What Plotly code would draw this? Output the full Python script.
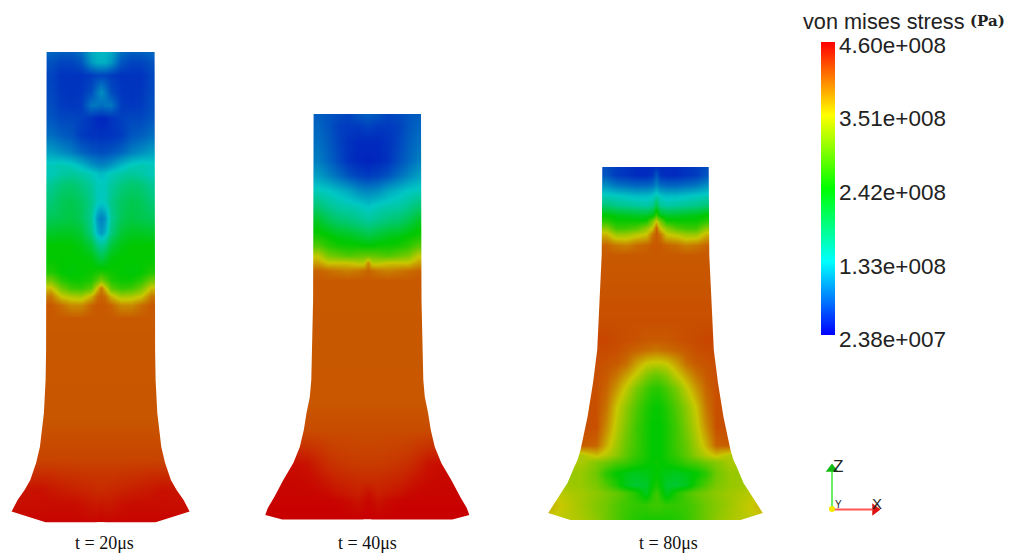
import numpy as np
import plotly.graph_objects as go

# Colour-bar ticks (Pa)
tick_vals = [2.38e7, 1.33e8, 2.42e8, 3.51e8, 4.60e8]
tick_text = ["2.38e+007", "1.33e+008", "2.42e+008", "3.51e+008", "4.60e+008"]
tick_y = [339, 266, 192, 118, 45]

# Distance from specimen axis for each column of readings
col_d = [0, 4, 10, 20, 30, 40, 50, 60, 75, 110]

# Readings are in colour-bar intervals: 0 = 2.38e7, 1 = 1.33e8, 2 = 2.42e8, 3 = 3.51e8, 4 = 4.60e8
rows_20 = [52, 62, 75, 92, 105, 118, 135, 152, 165, 173, 185, 202, 218, 232, 245, 258, 272, 280, 288, 296, 305, 318, 420, 460, 475, 490, 505, 523]
lvl_20 = [
    [.90, .88, .80, .45, .35, .35, .40],
    [.85, .85, .70, .30, .20, .20, .28],
    [.20, .20, .15, .10, .10, .10, .20],
    [.65, .50, .25, .12, .10, .12, .22],
    [.45, .50, .50, .15, .12, .15, .25],
    [.03, .03, .10, .18, .22, .22, .30],
    [.08, .10, .10, .15, .30, .35, .45],
    [.25, .27, .30, .40, .55, .65, .75],
    [.60, .62, .70, .90, 1.05, 1.1, 1.05],
    [.90, .95, 1.05, 1.15, 1.2, 1.15, 1.05],
    [1.05, 1.05, 1.2, 1.35, 1.45, 1.4, 1.25],
    [1.0, 1.05, 1.3, 1.5, 1.6, 1.55, 1.4],
    [.55, .70, 1.25, 1.55, 1.65, 1.6, 1.55],
    [.70, .85, 1.35, 1.72, 1.82, 1.82, 1.78],
    [1.25, 1.35, 1.7, 1.9, 2.0, 2.0, 2.0],
    [1.65, 1.75, 1.95, 2.0, 2.0, 2.0, 2.0],
    [2.15, 2.1, 2.05, 2.0, 1.95, 2.0, 2.15],
    [2.6, 2.4, 2.15, 2.05, 2.05, 2.2, 2.55],
    [3.4, 3.05, 2.45, 2.25, 2.3, 2.55, 3.05],
    [3.5, 3.45, 3.1, 2.8, 2.85, 3.0, 3.4],
    [3.55, 3.55, 3.5, 3.3, 3.3, 3.45, 3.55],
    [3.55],
    [3.57],
    [3.66],
    [3.73, 3.73, 3.73, 3.74, 3.75, 3.76, 3.78],
    [3.78, 3.78, 3.8, 3.82, 3.84, 3.86, 3.88, 3.92, 3.9],
    [3.9, 3.88, 3.88, 3.92, 3.94, 3.94, 3.94, 3.93, 3.93],
    [3.98, 3.97, 3.97, 3.97, 3.97, 3.97, 3.97],
]

rows_40 = [114, 125, 140, 160, 175, 190, 205, 220, 235, 245, 255, 262, 270, 280, 400, 430, 450, 463, 480, 493, 500, 520]
lvl_40 = [
    [.35, .33, .30, .20, .25, .30, .35],
    [.20, .18, .15, .15, .18, .30, .40],
    [.05, .05, .05, .10, .20, .35, .45],
    [.00, .02, .03, .10, .25, .40, .55],
    [.15, .18, .20, .30, .45, .60, .75],
    [.60, .60, .65, .80, .90, 1.0, 1.05],
    [.95, 1.0, 1.05, 1.1, 1.15, 1.25, 1.4],
    [1.2, 1.25, 1.3, 1.4, 1.45, 1.6, 1.8],
    [1.65, 1.7, 1.75, 1.85, 1.9, 2.0, 2.1],
    [2.0, 2.0, 2.05, 2.05, 2.1, 2.2, 2.4],
    [2.5, 2.5, 2.45, 2.4, 2.5, 2.6, 2.95],
    [3.3, 2.9, 2.9, 3.0, 3.0, 3.0, 3.2],
    [3.5, 3.45, 3.4, 3.35, 3.4, 3.45, 3.5],
    [3.55],
    [3.56],
    [3.62],
    [3.66, 3.66, 3.66, 3.67, 3.68, 3.7, 3.74, 3.78, 3.8],
    [3.7, 3.7, 3.7, 3.71, 3.73, 3.76, 3.82, 3.9, 3.93],
    [3.78, 3.78, 3.78, 3.8, 3.82, 3.86, 3.91, 3.94, 3.96],
    [3.92, 3.88, 3.84, 3.87, 3.9, 3.94, 3.96, 3.97, 3.97],
    [3.96, 3.94, 3.9, 3.94, 3.97, 3.98],
    [4.0],
]

rows_80 = [167, 175, 185, 195, 205, 215, 221, 228, 234, 245, 255, 320, 340, 350, 363, 375, 388, 407, 427, 445, 455, 462, 473, 485, 493, 505, 521]
lvl_80 = [
    [.10, .05, .05, .05, .10, .15, .25],
    [.30, .10, .05, .05, .10, .15, .30],
    [.60, .45, .40, .40, .45, .50, .65],
    [1.1, .95, .90, .90, .95, 1.0, 1.05],
    [1.6, 1.25, 1.15, 1.2, 1.25, 1.3, 1.4],
    [2.3, 1.9, 1.8, 1.8, 1.85, 1.9, 2.0],
    [3.0, 2.6, 2.1, 2.05, 2.05, 2.05, 2.2],
    [3.5, 3.0, 2.7, 2.4, 2.3, 2.3, 2.7],
    [3.55, 3.4, 3.0, 2.9, 2.75, 2.75, 3.1],
    [3.55, 3.55, 3.5, 3.45, 3.35, 3.4, 3.5],
    [3.55],
    [3.6],
    [3.55, 3.55, 3.55, 3.58, 3.6, 3.62, 3.65],
    [3.4, 3.42, 3.45, 3.5, 3.55, 3.6, 3.62, 3.62],
    [2.95, 2.95, 3.0, 3.2, 3.45, 3.55, 3.58, 3.6],
    [2.5, 2.55, 2.65, 2.95, 3.2, 3.42, 3.55, 3.6],
    [2.2, 2.22, 2.35, 2.6, 2.95, 3.25, 3.5, 3.6],
    [2.02, 2.05, 2.15, 2.4, 2.7, 3.02, 3.42, 3.6],
    [2.0, 2.0, 2.1, 2.3, 2.6, 2.92, 3.3, 3.6],
    [2.0, 2.0, 2.1, 2.3, 2.5, 2.8, 3.12, 3.5, 3.55],
    [2.0, 2.0, 2.1, 2.25, 2.45, 2.7, 2.9, 3.05, 2.85],
    [2.05, 2.0, 2.05, 2.15, 2.3, 2.4, 2.55, 2.65, 2.85],
    [2.0, 1.95, 1.9, 1.85, 1.9, 2.0, 2.2, 2.55, 2.75],
    [2.1, 2.0, 1.78, 1.75, 1.85, 2.15, 2.4, 2.6, 2.75, 2.85],
    [2.3, 2.15, 1.85, 2.15, 2.35, 2.5, 2.6, 2.7, 2.8, 3.0],
    [2.3, 2.3, 2.25, 2.25, 2.3, 2.4, 2.55, 2.65, 2.8, 3.15],
    [2.1, 2.1, 2.1, 2.15, 2.25, 2.4, 2.55, 2.7, 2.85, 3.0],
]

# Specimen outlines: height and half-width
edge_y_20 = [52, 350, 380, 413, 447, 463, 480, 490, 500, 511.5, 522.3]
edge_w_20 = [54, 54.5, 55, 56.7, 60.7, 64.5, 70.3, 76, 83, 89, 55]
edge_y_40 = [114, 300, 350, 380, 397, 413, 430, 447, 463, 480, 497, 508, 515, 519.5]
edge_w_40 = [53.7, 54.2, 55, 56, 57.5, 60.8, 63.5, 67.5, 74, 84, 93, 99.5, 102, 85]
edge_y_80 = [167, 255, 305, 350, 383, 417, 450, 460, 467, 483, 500, 513, 520]
edge_w_80 = [53.2, 53.8, 56, 58.3, 62.5, 68, 75, 78, 81.3, 88, 99, 107.3, 85]

specimens = [
    ("t = 20μs", 100.6, 104.5, 543, rows_20, lvl_20, edge_y_20, edge_w_20),
    ("t = 40μs", 367.3, 367.5, 543, rows_40, lvl_40, edge_y_40, edge_w_40),
    ("t = 80μs", 655.5, 668, 543, rows_80, lvl_80, edge_y_80, edge_w_80),
]

step = tick_vals[1] - tick_vals[0]
bright = [[0, "rgb(0,0,255)"], [.25, "rgb(0,255,255)"], [.5, "rgb(0,255,0)"], [.75, "rgb(255,255,0)"], [1, "rgb(255,0,0)"]]
shaded = [[0, "rgb(0,35,190)"], [.25, "rgb(0,200,195)"], [.5, "rgb(0,200,0)"], [.75, "rgb(200,200,0)"], [1, "rgb(200,0,0)"]]

fig = go.Figure()
annots = []


def txt(x, y, s, size, family="Liberation Sans", anchor="center", color="#222"):
    annots.append(dict(x=x, y=y, text=s, showarrow=False, xanchor=anchor, yanchor="middle",
                       font=dict(size=size, family=family, color=color), xref="x", yref="y"))


for label, c, lx, ly, rows, lvls, ey, ew in specimens:
    half = np.array([r + [r[-1]] * (len(col_d) - len(r)) for r in lvls], dtype=float)
    z = np.hstack([half[:, :0:-1], half]) * step + tick_vals[0]
    d = np.array(col_d, dtype=float)
    xs = np.concatenate([c - d[:0:-1], c + d])
    fig.add_trace(go.Heatmap(x=xs, y=rows, z=z, zmin=tick_vals[0], zmax=tick_vals[-1], zsmooth="best",
                             colorscale=shaded, showscale=False, hoverinfo="skip"))
    # White surround that trims the field to the specimen outline
    top, bot = ey[0], ey[-1]
    for s in (-1, 1):
        px = [c - s * 4] + [c + s * w for w in ew] + [c - s * 4, c - s * 4, c + s * 130, c + s * 130, c - s * 4]
        py = [top] + list(ey) + [bot, bot + 18, bot + 18, top - 18, top - 18]
        fig.add_trace(go.Scatter(x=px, y=py, mode="lines", fill="toself", fillcolor="white",
                                 line=dict(width=0, color="white"), hoverinfo="skip", showlegend=False))
    txt(lx, ly, label, 18, "Liberation Serif", color="#111")

# Colour bar
fig.add_trace(go.Scatter(x=[-50] * 5, y=[-50] * 5, mode="markers", showlegend=False, hoverinfo="skip",
                         marker=dict(color=tick_vals, cmin=tick_vals[0], cmax=tick_vals[-1], colorscale=bright, size=1,
                                     colorbar=dict(x=821 / 1011, xanchor="left", y=1 - 42 / 553, yanchor="top",
                                                   thickness=14, thicknessmode="pixels", len=293, lenmode="pixels",
                                                   xpad=0, ypad=0, outlinewidth=0, showticklabels=False, ticks="",
                                                   tickvals=tick_vals))))
for t, y in zip(tick_text, tick_y):
    txt(948, y, t, 22.5, anchor="right")
txt(801, 21, "von mises stress", 21.7, anchor="left")
txt(968, 21, "<b>(Pa)</b>", 15, "DejaVu Serif", anchor="left")

# Orientation triad
fig.add_trace(go.Scatter(x=[832, 832], y=[508, 470], mode="lines", line=dict(color="#66ee66", width=2), showlegend=False, hoverinfo="skip"))
fig.add_trace(go.Scatter(x=[832, 872], y=[509.5, 509.5], mode="lines", line=dict(color="#ff5555", width=2), showlegend=False, hoverinfo="skip"))
fig.add_trace(go.Scatter(x=[832], y=[469], mode="markers", marker=dict(symbol="triangle-up", size=11, color="#11bb11"), showlegend=False, hoverinfo="skip"))
fig.add_trace(go.Scatter(x=[875], y=[509.5], mode="markers", marker=dict(symbol="triangle-right", size=11, color="#dd1111"), showlegend=False, hoverinfo="skip"))
fig.add_trace(go.Scatter(x=[832], y=[509], mode="markers", marker=dict(size=6, color="#f5e800"), showlegend=False, hoverinfo="skip"))
txt(838, 466, "Z", 17)
txt(838, 504.5, "Y", 10)
txt(877, 503.5, "X", 15)

fig.update_layout(width=1011, height=553, margin=dict(l=0, r=0, t=0, b=0), paper_bgcolor="white", plot_bgcolor="white",
                  xaxis=dict(range=[0, 1011], visible=False, fixedrange=True),
                  yaxis=dict(range=[553, 0], visible=False, fixedrange=True),
                  showlegend=False, annotations=annots)
fig.write_html("out.html", config=dict(displayModeBar=False),
               post_script="document.body.style.margin='0';")
